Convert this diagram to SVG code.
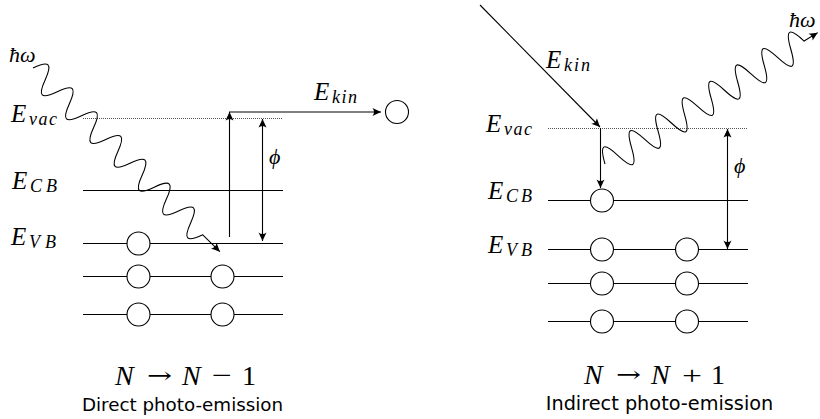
<svg xmlns="http://www.w3.org/2000/svg" width="820" height="419" viewBox="0 0 820 419">
<style>
.lvl{stroke:#000;stroke-width:1;fill:none}
.vac{stroke:#555;stroke-width:1;stroke-dasharray:1 1;fill:none}
.el{stroke:#000;stroke-width:1.1;fill:#fff}
.ar{stroke:#000;stroke-width:1.1;fill:none}
.wv{stroke:#000;stroke-width:1.1;fill:none}
.m{font-family:"Liberation Serif","DejaVu Serif",serif;font-style:italic;font-size:25px;fill:#000}
.s{font-family:"Liberation Serif","DejaVu Serif",serif;font-style:italic;font-size:18px;fill:#000}
.big{font-family:"Liberation Serif","DejaVu Serif",serif;font-size:28px;fill:#000}
.it{font-style:italic}
.sym{font-family:"Liberation Serif","DejaVu Serif",serif;font-size:26px;fill:#000}
.arw{font-family:"DejaVu Serif",serif;font-size:22px;fill:#000}
.cap{font-family:"DejaVu Sans",sans-serif;fill:#000;text-anchor:middle}
</style>
<defs>
<marker id="ah" viewBox="-9 -4.5 10 9" refX="0" refY="0" markerWidth="10" markerHeight="9" orient="auto-start-reverse" markerUnits="userSpaceOnUse">
<path d="M0,0 L-8.5,-4 Q-5.5,0 -8.5,4 Z" fill="#000"/>
</marker>
</defs>

<!-- LEFT PANEL -->
<g id="left-levels">
<line class="vac" x1="83" y1="118.5" x2="283" y2="118.5"/>
<line class="lvl" x1="83" y1="190.5" x2="283" y2="190.5"/>
<line class="lvl" x1="83" y1="243.5" x2="283" y2="243.5"/>
<line class="lvl" x1="83" y1="276.5" x2="283" y2="276.5"/>
<line class="lvl" x1="83" y1="314.5" x2="283" y2="314.5"/>
</g>
<g id="left-electrons">
<circle class="el" cx="138.5" cy="243.5" r="11.5"/>
<circle class="el" cx="138.5" cy="276.5" r="11.5"/>
<circle class="el" cx="222.5" cy="276.5" r="11.5"/>
<circle class="el" cx="138.5" cy="314.5" r="11.5"/>
<circle class="el" cx="222.5" cy="314.5" r="11.5"/>
</g>
<g id="left-free-electron">
<circle class="el" cx="397" cy="112" r="11.5"/>
</g>
<g id="left-connectors">
<g transform="translate(33,68) rotate(44.5)">
<path class="wv" marker-end="url(#ah)" d="M0,0 c6.1,-17 10.9,-17 17,0 s10.9,17 17,0 s10.9,-17 17,0 s10.9,17 17,0 s10.9,-17 17,0 s10.9,17 17,0 s10.9,-17 17,0 s10.9,17 17,0 s10.9,-17 17,0 s10.9,17 17,0 s10.9,-17 17,0 s10.9,17 17,0 s10.9,-17 17,0 s10.9,17 17,0 L262,0"/>
</g>
<line class="ar" x1="229.5" y1="237" x2="229.5" y2="112" marker-end="url(#ah)"/>
<line class="ar" x1="229" y1="112" x2="381" y2="112" marker-end="url(#ah)"/>
<line class="ar" x1="262.5" y1="119" x2="262.5" y2="241" marker-start="url(#ah)" marker-end="url(#ah)"/>
</g>
<g id="left-labels">
<text class="m" x="9" y="62" style="font-size:22px">ħω</text>
<text class="m" x="11" y="122">E</text><text class="s" x="29" y="125" textLength="28">vac</text>
<text class="m" x="12" y="189">E</text><text class="s" x="30" y="192" textLength="27">CB</text>
<text class="m" x="11" y="245">E</text><text class="s" x="29" y="248" textLength="27">VB</text>
<text class="m" x="314" y="100">E</text><text class="s" x="332" y="103" textLength="25">kin</text>
<text class="m" x="269" y="164" style="font-size:22px">ϕ</text>
<g id="left-eq">
<text class="big it" x="115" y="385">N</text>
<text class="arw" x="147" y="383" textLength="25" lengthAdjust="spacingAndGlyphs">→</text>
<text class="big it" x="182" y="385">N</text>
<text class="sym" x="212" y="384" textLength="20" lengthAdjust="spacingAndGlyphs">−</text>
<text class="big" x="242" y="385">1</text>
</g>
<text class="cap" x="182.5" y="411" style="font-size:18.3px">Direct photo-emission</text>
</g>

<!-- RIGHT PANEL -->
<g id="right-levels">
<line class="vac" x1="548" y1="128.5" x2="748" y2="128.5"/>
<line class="lvl" x1="548" y1="200.5" x2="748" y2="200.5"/>
<line class="lvl" x1="548" y1="249.5" x2="748" y2="249.5"/>
<line class="lvl" x1="548" y1="283.5" x2="748" y2="283.5"/>
<line class="lvl" x1="548" y1="321.5" x2="748" y2="321.5"/>
</g>
<g id="right-electrons">
<circle class="el" cx="602" cy="200.5" r="11.5"/>
<circle class="el" cx="602" cy="249.5" r="11.5"/>
<circle class="el" cx="687" cy="249.5" r="11.5"/>
<circle class="el" cx="602" cy="283.5" r="11.5"/>
<circle class="el" cx="687" cy="283.5" r="11.5"/>
<circle class="el" cx="602" cy="321.5" r="11.5"/>
<circle class="el" cx="687" cy="321.5" r="11.5"/>
</g>
<g id="right-connectors">
<line class="ar" x1="480" y1="5" x2="600" y2="127" marker-end="url(#ah)"/>
<line class="ar" x1="600.5" y1="128" x2="600.5" y2="188" marker-end="url(#ah)"/>
<line class="ar" x1="727.5" y1="129" x2="727.5" y2="249" marker-start="url(#ah)" marker-end="url(#ah)"/>
<g transform="translate(605,164) rotate(-31.7)">
<path class="wv" marker-end="url(#ah)" d="M0,0 c5.6,-20 10,-20 15.6,0 s10,20 15.6,0 s10,-20 15.6,0 s10,20 15.6,0 s10,-20 15.6,0 s10,20 15.6,0 s10,-20 15.6,0 s10,20 15.6,0 s10,-20 15.6,0 s10,20 15.6,0 s10,-20 15.6,0 s10,20 15.6,0 s10,-20 15.6,0 s10,20 15.6,0 s10,-20 15.6,0 L250,0"/>
</g>
</g>
<g id="right-labels">
<text class="m" x="546" y="68">E</text><text class="s" x="564" y="71" textLength="26">kin</text>
<text class="m" x="486" y="132">E</text><text class="s" x="504" y="135" textLength="28">vac</text>
<text class="m" x="488" y="199">E</text><text class="s" x="506" y="202" textLength="26">CB</text>
<text class="m" x="488" y="253">E</text><text class="s" x="506" y="256" textLength="26">VB</text>
<text class="m" x="789" y="27" style="font-size:22px">ħω</text>
<text class="m" x="734" y="173" style="font-size:22px">ϕ</text>
<g id="right-eq">
<text class="big it" x="584" y="384">N</text>
<text class="arw" x="616" y="382" textLength="25" lengthAdjust="spacingAndGlyphs">→</text>
<text class="big it" x="651" y="384">N</text>
<text class="sym" x="682" y="384" textLength="20" lengthAdjust="spacingAndGlyphs">+</text>
<text class="big" x="711" y="384">1</text>
</g>
<text class="cap" x="659.5" y="410" style="font-size:19.3px">Indirect photo-emission</text>
</g>
</svg>
